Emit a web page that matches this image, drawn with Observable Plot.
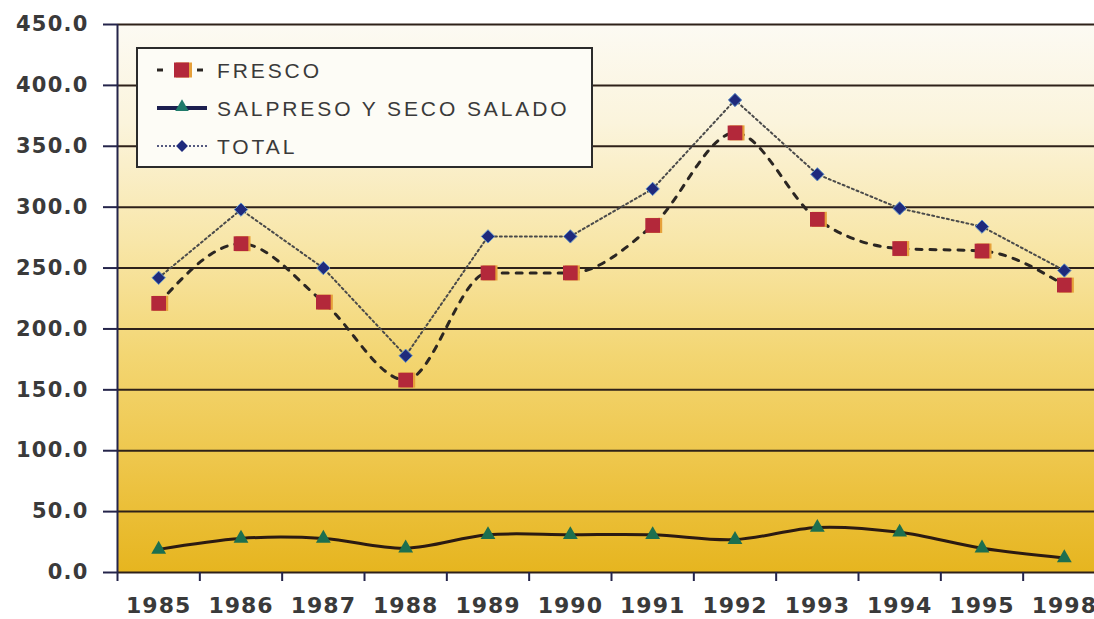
<!DOCTYPE html>
<html>
<head>
<meta charset="utf-8">
<script src="https://cdn.jsdelivr.net/npm/d3@7"></script>
<script src="https://cdn.jsdelivr.net/npm/@observablehq/plot@0.6"></script>
<style>
  html, body { margin: 0; padding: 0; background: #fff; }
  #wrap { position: relative; width: 1094px; height: 619px; overflow: hidden; background: #fff; }
  #wrap svg.main { display: block; }
  #wrap svg [aria-label^="x-axis"] text { font-size: 22px; letter-spacing: 1px; }
  #wrap svg [aria-label^="y-axis"] text { font-size: 21px; letter-spacing: 1.2px; }
  #wrap svg [aria-label^="y-axis"] line,
  #wrap svg [aria-label^="y-axis"] path { stroke: #24244a; stroke-width: 2px; }
  #legend { position: absolute; left: 136px; top: 47px; }
  #legend text { font-family: "Liberation Sans", Arial, sans-serif; font-size: 21px; letter-spacing: 2.9px; fill: #3a3a3a; }
</style>
</head>
<body>
<div id="wrap"></div>
<script>
// ---- data ----
const years = ["1985", "1986", "1987", "1988", "1989", "1990", "1991", "1992", "1993", "1994", "1995", "1998"];
const fresco   = [221, 270, 222, 158, 246, 246, 285, 361, 290, 266, 264, 236];
const salpreso = [19, 28, 28, 20, 31, 31, 31, 27, 37, 33, 20, 12];
const total    = [242, 298, 250, 178, 276, 276, 315, 388, 327, 299, 284, 248];
const yTicks = [0, 50, 100, 150, 200, 250, 300, 350, 400, 450];
const seriesNames = ["FRESCO", "SALPRESO Y SECO SALADO", "TOTAL"];

const rows = years.map((year, i) => ({ i, year, fresco: fresco[i], salpreso: salpreso[i], total: total[i] }));
const xBounds = d3.range(years.length + 1).map(k => k - 0.5);

const chart = Plot.plot({
  width: 1094,
  height: 619,
  marginTop: 24,
  marginBottom: 47,
  marginLeft: 117,
  marginRight: 0,
  style: { fontFamily: "'DejaVu Sans', sans-serif", fontWeight: "bold", color: "#3a3a3a", background: "white", overflow: "hidden" },
  x: {
    domain: [-0.5, years.length - 0.5],
    range: [117, 1105],
    ticks: d3.range(years.length),
    tickFormat: i => years[i],
    tickSize: 0,
    tickPadding: 25,
    label: null
  },
  y: {
    domain: [0, 450],
    ticks: yTicks,
    tickFormat: d => d.toFixed(1),
    tickSize: 14,
    tickPadding: 15,
    label: null
  },
  marks: [
    Plot.frame({ fill: "url(#bg)", stroke: null }),
    Plot.ruleY(yTicks, { stroke: "#2e2119", strokeWidth: 2 }),
    Plot.ruleX([-0.5], { stroke: "#24244a", strokeWidth: 2 }),
    Plot.ruleX(xBounds, { y1: 0, y2: 0, insetBottom: -9, stroke: "#24244a", strokeWidth: 2 }),
    Plot.line(rows, { x: "i", y: "total", stroke: "#4a4a4a", strokeWidth: 2, strokeDasharray: "2,3" }),
    Plot.line(rows, { x: "i", y: "fresco", stroke: "#2b2622", strokeWidth: 3, strokeDasharray: "6,8", curve: "monotone-x" }),
    Plot.line(rows, { x: "i", y: "salpreso", stroke: "#2b1a12", strokeWidth: 3, curve: "catmull-rom" }),
    Plot.dot(rows, { x: "i", y: "fresco", symbol: "square", r: 8.5, fill: "#e6a03a", dx: 2 }),
    Plot.dot(rows, { x: "i", y: "fresco", symbol: "square", r: 8.3, fill: "#b3283a" }),
    Plot.dot(rows, { x: "i", y: "total", symbol: "diamond2", r: 6, fill: "#1f2a7c", stroke: "#5d8fc8", strokeWidth: 1 }),
    Plot.dot(rows, { x: "i", y: "salpreso", symbol: "triangle", r: 5.5, fill: "#1c6f4f" })
  ]
});

const svgEl = chart.tagName.toLowerCase() === "svg" ? chart : chart.querySelector("svg");
svgEl.classList.add("main");
const defs = d3.select(svgEl).insert("defs", ":first-child");
const grad = defs.append("linearGradient").attr("id", "bg")
  .attr("x1", 0).attr("y1", 0).attr("x2", 0).attr("y2", 1);
[[0, "#fcfaf3"], [0.18, "#fbf4dc"], [0.4, "#f8e6a8"], [0.6, "#f3d673"], [0.8, "#eec64a"], [1, "#e6b51f"]]
  .forEach(([o, c]) => grad.append("stop").attr("offset", o).attr("stop-color", c));

const wrap = document.getElementById("wrap");
wrap.appendChild(chart);

// ---- legend (inside the plot area, top-left) ----
const lg = d3.select(wrap).append("svg").attr("id", "legend").attr("width", 460).attr("height", 124);
lg.append("rect").attr("x", 1).attr("y", 1).attr("width", 455).attr("height", 119)
  .attr("fill", "#fdfcf6").attr("stroke", "#2b2b2b").attr("stroke-width", 2);
const rowY = [23, 61, 99];
// FRESCO symbol
lg.append("line").attr("x1", 21).attr("x2", 27).attr("y1", rowY[0]).attr("y2", rowY[0]).attr("stroke", "#2b2622").attr("stroke-width", 3);
lg.append("line").attr("x1", 61).attr("x2", 67).attr("y1", rowY[0]).attr("y2", rowY[0]).attr("stroke", "#2b2622").attr("stroke-width", 3);
lg.append("rect").attr("x", 40).attr("y", rowY[0] - 7.5).attr("width", 16).attr("height", 15).attr("fill", "#e6a03a");
lg.append("rect").attr("x", 38).attr("y", rowY[0] - 7.5).attr("width", 15).attr("height", 15).attr("fill", "#b3283a");
// SALPRESO symbol
lg.append("line").attr("x1", 21).attr("x2", 71).attr("y1", rowY[1]).attr("y2", rowY[1]).attr("stroke", "#1c1f4f").attr("stroke-width", 4);
lg.append("path").attr("d", d3.symbol(d3.symbolTriangle, 80)()).attr("transform", `translate(46,${rowY[1] - 1})`).attr("fill", "#1f7a6a");
// TOTAL symbol
lg.append("line").attr("x1", 21).attr("x2", 71).attr("y1", rowY[2]).attr("y2", rowY[2]).attr("stroke", "#555a80").attr("stroke-width", 2).attr("stroke-dasharray", "2,2");
lg.append("path").attr("d", d3.symbol(d3.symbolDiamond2, 90)()).attr("transform", `translate(46,${rowY[2]})`).attr("fill", "#1f2a7c");
// labels
lg.selectAll("text.lab").data(seriesNames).join("text").attr("class", "lab")
  .attr("x", 81).attr("y", (d, k) => rowY[k]).attr("dy", "0.36em").text(d => d);
</script>
</body>
</html>
